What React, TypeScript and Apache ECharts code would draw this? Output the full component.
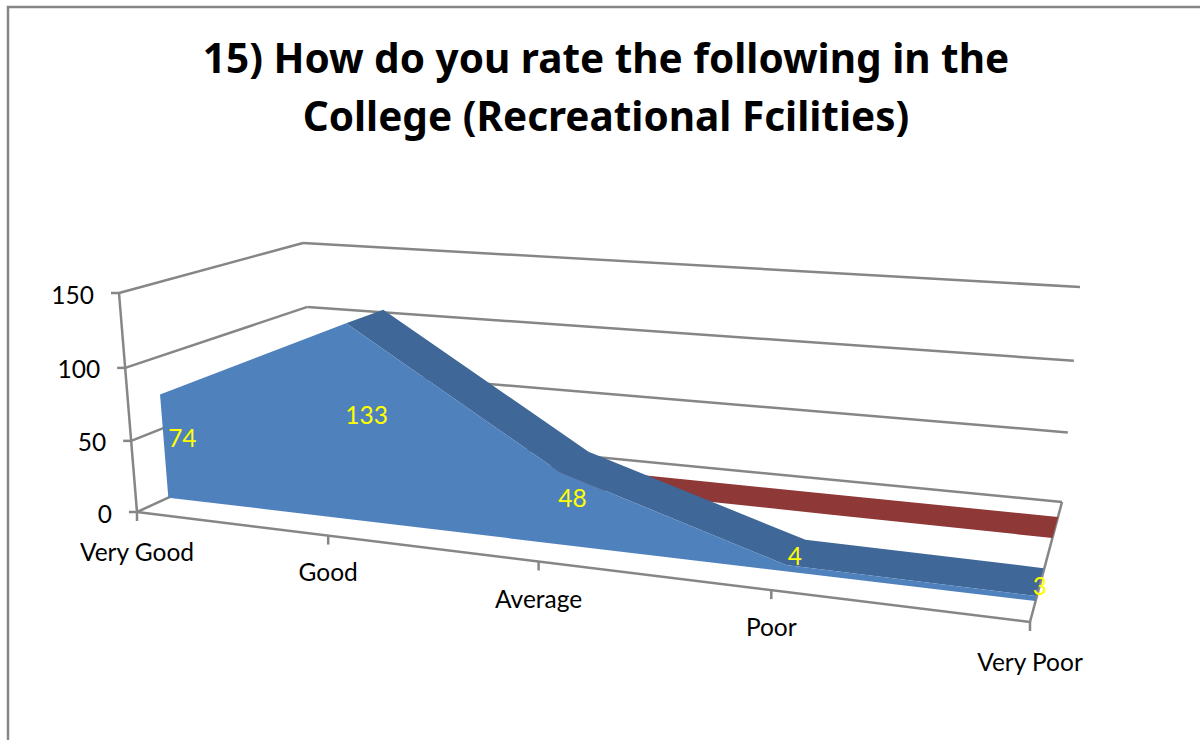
import React, { useEffect, useRef } from "react";
import * as echarts from "echarts";

const categories = ["Very Good", "Good", "Average", "Poor", "Very Poor"];
const responses = [74, 133, 48, 4, 3];
const secondSeries = [0, 0, 0, 0, 0];
const valueTicks = [0, 50, 100, 150];
const titleText = "15) How do you rate the following in the\nCollege (Recreational Fcilities)";

// Layout of the picture, not data
const GRID = { left: 137, top: 293, width: 893, height: 219 };
const FRONT_QUAD = [[137, 512], [1030, 622], [1051, 357], [119, 293]];
const BACK_QUAD = [[316, 430], [1062, 502], [1080, 287], [303, 243]];
const BLUE_DEPTH = [0.175, 0.41];
const LABEL_DEPTH = 0.27;
const RED_DEPTH = [0.7, 0.875];
const CATEGORY_LABEL_DROP = [39, 36, 37, 36, 39];
const FONT = "Lato";
const AXIS = "#868686";
const BLUE_FRONT = "#4F81BD";
const BLUE_TOP = "#3F6797";
const RED_TOP = "#8E3937";

function squareToQuad(q: number[][]) {
  const [[x0, y0], [x1, y1], [x2, y2], [x3, y3]] = q;
  const dx1 = x1 - x2, dx2 = x3 - x2, sx = x0 - x1 + x2 - x3;
  const dy1 = y1 - y2, dy2 = y3 - y2, sy = y0 - y1 + y2 - y3;
  const den = dx1 * dy2 - dx2 * dy1;
  const g = (sx * dy2 - dx2 * sy) / den;
  const h = (dx1 * sy - sx * dy1) / den;
  const a = x1 - x0 + g * x1, b = x3 - x0 + h * x3;
  const d = y1 - y0 + g * y1, e = y3 - y0 + h * y3;
  return (u: number, v: number) => {
    const w = g * u + h * v + 1;
    return [(a * u + b * v + x0) / w, (d * u + e * v + y0) / w];
  };
}
const frontPlane = squareToQuad(FRONT_QUAD);
const backPlane = squareToQuad(BACK_QUAD);

// Projects a cartesian pixel given by the axes into the 3D box at depth t
function project(api: any, cat: number, value: number, t: number) {
  const [px, py] = api.coord([cat, value]);
  const u = (px - GRID.left) / GRID.width;
  const v = (GRID.top + GRID.height - py) / GRID.height;
  const f = frontPlane(u, v);
  const b = backPlane(u, v);
  return [f[0] + (b[0] - f[0]) * t, f[1] + (b[1] - f[1]) * t];
}

const line = (a: number[], b: number[]) => ({
  type: "line",
  shape: { x1: a[0], y1: a[1], x2: b[0], y2: b[1] },
  style: { stroke: AXIS, lineWidth: 2.5, fill: "none" },
});
const text = (t: string, x: number, y: number, fill: string, align: string) => ({
  type: "text",
  style: { text: t, x, y, fill, font: `24.5px ${FONT}`, textAlign: align, textVerticalAlign: "middle" },
});

function renderFrame(params: any, api: any) {
  if (params.dataIndex !== 0) return null;
  const last = categories.length - 1;
  const children: any[] = [];
  valueTicks.forEach((tick) => {
    const a = project(api, 0, tick, 0);
    const b = project(api, 0, tick, 1);
    const c = project(api, last, tick, 1);
    children.push(line(a, b), line(b, c), line([a[0] - 8, a[1]], a));
    children.push(text(String(tick), a[0] - 25, a[1] + 1, "#000", "right"));
  });
  children.push(line(project(api, 0, 0, 0), project(api, 0, 150, 0)));
  children.push(line(project(api, 0, 0, 0), project(api, last, 0, 0)));
  children.push(line(project(api, last, 0, 0), project(api, last, 0, 1)));
  categories.forEach((c, i) => {
    const p = project(api, i, 0, 0);
    children.push(line(p, [p[0], p[1] + 9]));
    children.push(text(c, p[0], p[1] + CATEGORY_LABEL_DROP[i], "#000", "center"));
  });
  return { type: "group", children };
}

function renderRed(params: any, api: any) {
  if (params.dataIndex !== 0) return null;
  const near = secondSeries.map((v, i) => project(api, i, v, RED_DEPTH[0]));
  const far = secondSeries.map((v, i) => project(api, i, v, RED_DEPTH[1]));
  return { type: "polygon", shape: { points: [...near, ...far.reverse()] }, style: { fill: RED_TOP } };
}

function renderBlue(params: any, api: any) {
  if (params.dataIndex !== 0) return null;
  const [d0, d1] = BLUE_DEPTH;
  const last = responses.length - 1;
  const children: any[] = [];
  // Only faces turned to the viewer: a rising segment hides its top surface,
  // so the top surface starts at the peak and runs to the last category.
  const peak = responses.indexOf(Math.max(...responses));
  const near: number[][] = [];
  const far: number[][] = [];
  for (let i = peak; i <= last; i++) {
    near.push(project(api, i, responses[i], d0));
    far.push(project(api, i, responses[i], d1));
  }
  children.push({
    type: "polygon",
    shape: { points: [...near, ...far.reverse()] },
    style: { fill: BLUE_TOP },
  });
  children.push({
    type: "polygon",
    shape: {
      points: [
        project(api, 0, 0, d0),
        ...responses.map((v, i) => project(api, i, v, d0)),
        project(api, last, 0, d0),
      ],
    },
    style: { fill: BLUE_FRONT },
  });
  responses.forEach((v, i) => {
    const p = project(api, i, v / 2, LABEL_DEPTH);
    children.push(text(String(v), p[0] + 1, p[1] - 2, "#FFFF00", "center"));
  });
  return { type: "group", children };
}

export default function App() {
  const ref = useRef<HTMLDivElement>(null);
  useEffect(() => {
    const chart = echarts.init(ref.current!, undefined, { renderer: "svg" });
    const custom = (name: string, renderItem: any, values: number[], z: number) => ({
      type: "custom",
      name,
      renderItem,
      silent: true,
      clip: false,
      z,
      data: values.map((v, i) => [i, v]),
    });
    chart.setOption({
      animation: false,
      backgroundColor: "#fff",
      title: {
        text: titleText,
        left: 601,
        top: 23,
        textAlign: "center",
        textStyle: { fontFamily: "Noto Sans", fontWeight: "bold", fontSize: 40.5, lineHeight: 58, color: "#000" },
      },
      grid: { ...GRID },
      xAxis: { type: "category", data: categories, boundaryGap: false, show: false },
      yAxis: { type: "value", min: 0, max: 150, interval: 50, show: false },
      graphic: [
        {
          type: "polyline",
          shape: { points: [[8, 740], [8, 7], [1200, 7]] },
          style: { stroke: AXIS, lineWidth: 2.5, fill: "none" },
        },
      ],
      series: [
        custom("Frame", renderFrame, valueTicks, 1),
        custom("Series 2", renderRed, secondSeries, 2),
        custom("Responses", renderBlue, responses, 3),
      ],
    });
    return () => chart.dispose();
  }, []);
  return <div ref={ref} style={{ position: "absolute", left: 0, top: 0, width: 1200, height: 740 }} />;
}
